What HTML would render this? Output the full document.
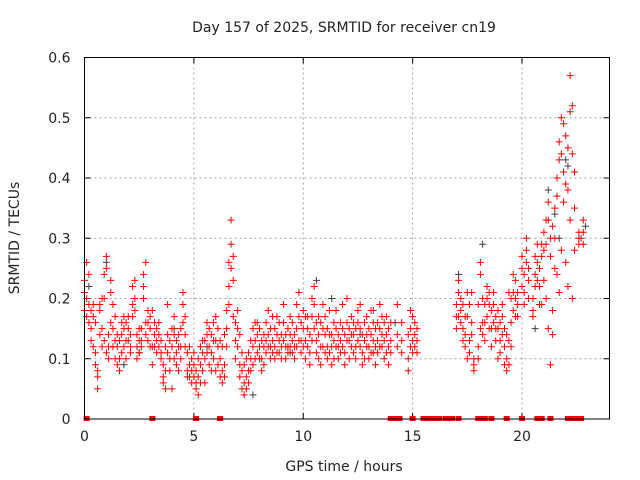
<!DOCTYPE html>
<html><head><meta charset="utf-8"><style>
html,body{margin:0;padding:0;background:#fff}
svg{display:block;font-family:"DejaVu Sans","Liberation Sans",sans-serif}
</style></head><body>
<svg id="chart" width="640" height="480">
<text x="344" y="32" text-anchor="middle" font-size="14" fill="#222">Day 157 of 2025, SRMTID for receiver cn19</text>
<text x="344" y="471" text-anchor="middle" font-size="14" fill="#222">GPS time / hours</text>
<text transform="translate(19,238) rotate(-90)" text-anchor="middle" font-size="14" fill="#222">SRMTID / TECUs</text>
<g id="grid"></g>
<g id="ticks"></g>
<g id="gray"></g>
<g id="red"></g>
<rect x="84.5" y="57.5" width="525" height="361.5" fill="none" stroke="#000" stroke-width="1"/>
</svg>
<script>
const xTicks=[0,5,10,15,20];
const yTicks=[0,0.1,0.2,0.3,0.4,0.5,0.6];
const yTickLabels=["0","0.1","0.2","0.3","0.4","0.5","0.6"];
const hours=[0.0,0.1,0.2,0.3,0.4,0.5,0.6,0.7,0.8,0.9,1.0,1.1,1.2,1.3,1.4,1.5,1.6,1.7,1.8,1.9,2.0,2.1,2.2,2.3,2.4,2.5,2.6,2.7,2.8,2.9,3.0,3.1,3.2,3.3,3.4,3.5,3.6,3.7,3.8,3.9,4.0,4.1,4.2,4.3,4.4,4.5,4.6,4.7,4.8,4.9,5.0,5.1,5.2,5.3,5.4,5.5,5.6,5.7,5.8,5.9,6.0,6.1,6.2,6.3,6.4,6.5,6.6,6.7,6.8,6.9,7.0,7.1,7.2,7.3,7.4,7.5,7.6,7.7,7.8,7.9,8.0,8.1,8.2,8.3,8.4,8.5,8.6,8.7,8.8,8.9,9.0,9.1,9.2,9.3,9.4,9.5,9.6,9.7,9.8,9.9,10.0,10.1,10.2,10.3,10.4,10.5,10.6,10.7,10.8,10.9,11.0,11.1,11.2,11.3,11.4,11.5,11.6,11.7,11.8,11.9,12.0,12.1,12.2,12.3,12.4,12.5,12.6,12.7,12.8,12.9,13.0,13.1,13.2,13.3,13.4,13.5,13.6,13.7,13.8,13.9,14.0,14.3,14.5,14.8,14.9,15.0,15.1,15.2,17.0,17.1,17.2,17.3,17.4,17.5,17.6,17.7,17.8,18.0,18.1,18.2,18.3,18.4,18.5,18.6,18.7,18.8,18.9,19.0,19.1,19.2,19.3,19.4,19.5,19.6,19.7,19.8,20.0,20.1,20.2,20.3,20.5,20.6,20.7,20.8,20.9,21.0,21.1,21.2,21.3,21.4,21.5,21.6,21.7,21.8,21.9,22.0,22.1,22.2,22.3,22.4,22.6,22.8];
const srmtid=[[.21,.23,.18],[.26,.20,.17],[.19,.16,.24],[.18,.15,.13],[.19,.17,.12],[.11,.09,.16],[.08,.05,.07],[.18,.14,.19],[.15,.12,.20],[.24,.20,.13],[.27,.25,.11],[.12,.10,.14],[.23,.21,.16],[.19,.15,.12],[.17,.13,.10],[.12,.09,.14],[.13,.10,.08],[.14,.11,.16],[.15,.12,.17],[.13,.10,.16],[.15,.13,.17],[.14,.11,.12],[.22,.19,.17],[.23,.20,.18],[.12,.10,.14],[.13,.11,.15],[.15,.13,.12],[.24,.22,.20],[.26,.16,.14],[.16,.13,.18],[.17,.15,.12],[.09,.12,.18],[.14,.12,.16],[.15,.13,.11],[.16,.14,.12],[.13,.11,.10],[.07,.06,.09],[.05,.08,.12],[.14,.19,.11],[.10,.08,.13],[.15,.12,.05],[.17,.14,.10],[.11,.09,.13],[.14,.12,.08],[.10,.12,.15],[.19,.21,.16],[.17,.14,.12],[.08,.07,.11],[.09,.07,.12],[.10,.08,.06],[.09,.07,.11],[.06,.05,.08],[.10,.07,.04],[.12,.09,.06],[.11,.08,.13],[.13,.10,.06],[.16,.14,.11],[.12,.09,.15],[.14,.11,.08],[.16,.13,.10],[.17,.13,.08],[.15,.12,.09],[.07,.10,.13],[.08,.06,.12],[.09,.07,.14],[.12,.15,.18],[.22,.26,.19],[.33,.29,.25],[.27,.23,.17],[.16,.13,.10],[.15,.18,.12],[.09,.07,.14],[.08,.05,.11],[.06,.04,.09],[.07,.05,.10],[.11,.08,.06],[.13,.10,.08],[.15,.12,.09],[.13,.10,.16],[.16,.14,.11],[.12,.10,.15],[.10,.08,.13],[.14,.12,.09],[.16,.13,.11],[.14,.12,.18],[.12,.10,.15],[.13,.11,.17],[.15,.12,.10],[.17,.14,.11],[.13,.11,.16],[.14,.10,.12],[.16,.13,.19],[.12,.10,.14],[.15,.12,.11],[.17,.14,.12],[.13,.11,.16],[.14,.12,.10],[.19,.15,.12],[.21,.17,.13],[.16,.13,.11],[.15,.12,.18],[.13,.10,.17],[.17,.15,.12],[.14,.11,.09],[.20,.17,.13],[.22,.19,.15],[.13,.11,.16],[.17,.14,.10],[.16,.12,.09],[.19,.15,.12],[.14,.11,.17],[.12,.10,.15],[.18,.14,.11],[.14,.12,.09],[.13,.10,.16],[.15,.12,.18],[.12,.10,.14],[.16,.13,.11],[.19,.15,.12],[.14,.11,.09],[.16,.13,.20],[.13,.10,.15],[.17,.14,.12],[.14,.11,.16],[.12,.10,.15],[.16,.13,.18],[.19,.15,.12],[.14,.11,.09],[.13,.10,.16],[.17,.14,.12],[.15,.12,.10],[.18,.14,.11],[.13,.11,.16],[.12,.09,.15],[.16,.13,.11],[.19,.15,.12],[.14,.12,.17],[.13,.10,.16],[.17,.14,.11],[.09,.12,.15],[.13,.11,.16],[.14,.12,.19],[.16,.13,.11],[.10,.08,.14],[.15,.12,.18],[.13,.17,.11],[.14,.12,.16],[.15,.13,.11],[.19,.17,.15],[.23,.21,.17],[.20,.18,.16],[.15,.13,.19],[.17,.14,.12],[.21,.17,.10],[.13,.11,.19],[.16,.14,.21],[.09,.08,.10],[.12,.10,.19],[.26,.24,.15],[.16,.14,.20],[.19,.16,.13],[.22,.20,.17],[.21,.19,.15],[.18,.15,.12],[.21,.19,.16],[.17,.15,.13],[.18,.15,.10],[.16,.13,.11],[.19,.17,.14],[.12,.09,.15],[.10,.08,.14],[.13,.09,.21],[.20,.16,.12],[.24,.21,.18],[.23,.20,.17],[.21,.19,.17],[.27,.25,.22],[.24,.21,.19],[.30,.28,.26],[.25,.23,.20],[.20,.18,.17],[.27,.24,.22],[.29,.26,.23],[.25,.22,.19],[.27,.29,.19],[.31,.28,.23],[.33,.29,.20],[.36,.33,.15],[.30,.27,.09],[.32,.18,.14],[.35,.30,.25],[.40,.37,.24],[.46,.43,.21],[.50,.44,.28],[.49,.41,.36],[.47,.39,.26],[.45,.38,.22],[.57,.51,.33],[.52,.44,.20],[.41,.35,.28],[.31,.30,.29],[.33,.31,.29]];
const grayHours=[0.2,1.0,1.8,2.5,4.1,5.6,7.7,9.4,10.6,11.3,12.6,13.2,14.2,17.1,18.2,20.6,21.2,21.5,21.7,21.9,22.0,22.1,22.7,22.9];
const grayVals=[0.22,0.26,0.09,0.11,0.15,0.12,0.04,0.11,0.23,0.20,0.14,0.18,0.16,0.24,0.29,0.15,0.38,0.34,0.30,0.41,0.43,0.42,0.30,0.32];
const zeroHours=[0.1,3.1,5.1,6.2,14.0,14.1,14.2,14.3,14.4,15.0,15.5,15.6,15.7,15.8,15.9,16.0,16.1,16.2,16.5,16.6,16.7,16.8,17.1,18.0,18.1,18.2,18.3,18.6,19.3,20.0,20.7,20.9,21.3,22.1,22.2,22.3,22.4,22.5,22.6,22.7];
const NS='http://www.w3.org/2000/svg';
const L=84.5,R=609.5,T=57.5,B=419;
function xs(h){return L+(h/24)*(R-L);}
function ys(v){return B-(v/0.6)*(B-T);}
function el(tag,attrs,parent){const e=document.createElementNS(NS,tag);for(const k in attrs)e.setAttribute(k,attrs[k]);parent.appendChild(e);return e;}
const grid=document.getElementById('grid'),ticks=document.getElementById('ticks');
xTicks.forEach(t=>{const x=xs(t);
 if(t>0){const g=el('line',{x1:x,x2:x,y1:T,y2:B,stroke:'#a0a0a0','stroke-dasharray':'2,3'},grid);
 
 }
 el('line',{x1:x,x2:x,y1:B,y2:B-6,stroke:'#000'},ticks);el('line',{x1:x,x2:x,y1:T,y2:T+6,stroke:'#000'},ticks);
 const tx=el('text',{x:x,y:B+22,'text-anchor':'middle','font-size':'14',fill:'#222'},ticks);tx.textContent=t;
 
 });
yTicks.forEach((t,i)=>{const y=ys(t);
 if(t>0&&t<0.6){const g=el('line',{x1:L,x2:R,y1:y,y2:y,stroke:'#a0a0a0','stroke-dasharray':'2,3'},grid);
 
 }
 el('line',{x1:L,x2:L+6,y1:y,y2:y,stroke:'#000'},ticks);el('line',{x1:R,x2:R-6,y1:y,y2:y,stroke:'#000'},ticks);
 const tx=el('text',{x:L-14,y:y+5,'text-anchor':'end','font-size':'14',fill:'#222'},ticks);tx.textContent=yTickLabels[i];
 
 });
function plus(x,y,c,g,name){const p=el('path',{d:`M${x-3.5},${y}h7M${x},${y-3.5}v7`,stroke:c,'stroke-width':'1',fill:'none'},g);
 
 }
const gg=document.getElementById('gray'),rg=document.getElementById('red');
grayHours.forEach((h,i)=>plus(xs(h),ys(grayVals[i]),'#404040',gg,'gray-point'));
hours.forEach((h,i)=>srmtid[i].forEach(v=>plus(xs(h),ys(v),'#ff0000',rg,'red-point')));
zeroHours.forEach(h=>{const r=el('rect',{x:xs(h)-3,y:B-3,width:6,height:5,fill:'#ff0000'},rg);
 
 });
</script>
</body></html>
